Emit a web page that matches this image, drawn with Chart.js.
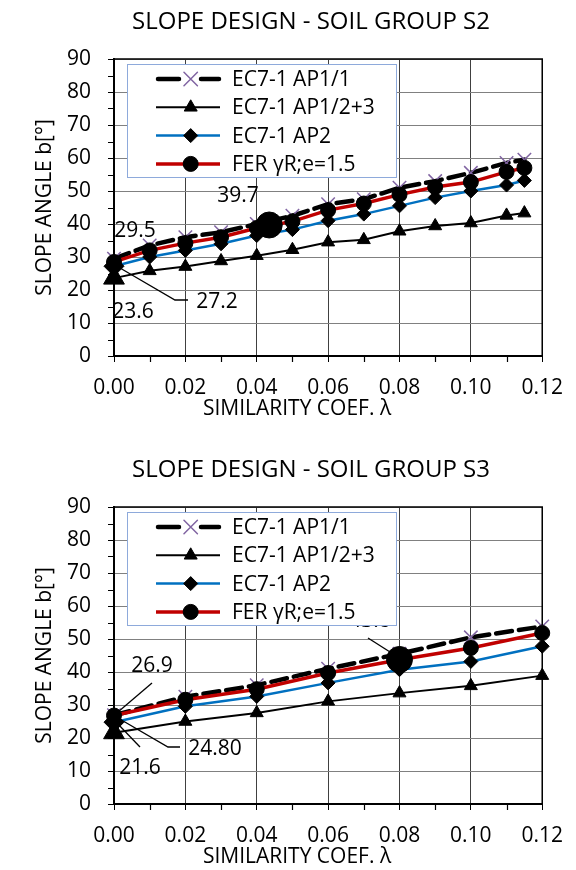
<!DOCTYPE html>
<html>
<head>
<meta charset="utf-8">
<script src="https://cdn.jsdelivr.net/npm/chart.js@4.4.1/dist/chart.umd.min.js"></script>
<style>
  body { margin: 0; background: #fff; }
  .box { position: absolute; left: 0; width: 576px; height: 422px; }
</style>
</head>
<body>
<div class="box" style="top:0"><canvas id="chartS2"></canvas></div>
<div class="box" style="top:448px"><canvas id="chartS3"></canvas></div>
<script>
// ---- data ----
const seriesNames = ['EC7-1 AP1/1', 'EC7-1 AP1/2+3', 'EC7-1 AP2', 'FER \u03b3R;e=1.5'];
const xTicks = [0, 0.02, 0.04, 0.06, 0.08, 0.10, 0.12];
const yTicks = [0, 10, 20, 30, 40, 50, 60, 70, 80, 90];

// soil group S2
const lambdaS2 = [0, 0.01, 0.02, 0.03, 0.04, 0.05, 0.06, 0.07, 0.08, 0.09, 0.10, 0.11, 0.115];
const ap11S2 = [29.5, 33.5, 36, 37.5, 40, 42.5, 46, 47.5, 51, 53, 55.5, 58.5, 59.5];
const ap123S2 = [23.6, 25.8, 27.1, 28.8, 30.4, 32.2, 34.5, 35.2, 37.8, 39.4, 40.3, 42.6, 43.3];
const ap2S2 = [27.2, 30, 32, 34, 36.5, 38.3, 41, 43, 45.5, 48, 50, 51.8, 53.2];
const ferS2 = [28.5, 32, 34.2, 36, 38.8, 40.8, 44.2, 46.2, 48.9, 51.2, 52.7, 55.8, 57];
const designS2 = [[0, 23.6], [0, 27.2], [0.0435, 39.7]];
const notesS2 = ['29.5', '23.6', '27.2', '39.7'];

// soil group S3
const lambdaS3 = [0, 0.02, 0.04, 0.06, 0.08, 0.10, 0.12];
const ap11S3 = [26.9, 32.5, 36, 41, 45.5, 50.5, 53.8];
const ap123S3 = [21.6, 25, 27.6, 31.1, 33.6, 35.8, 38.9];
const ap2S3 = [24.8, 29.6, 32.6, 36.7, 40.7, 43.2, 47.8];
const ferS3 = [26.8, 31.6, 34.8, 39.7, 43.7, 47.3, 51.8];
const designS3 = [[0, 21.6], [0, 24.8], [0.08, 43.8]];
const notesS3 = ['26.9', '21.6', '24.80', '43.8'];

// ---- styles ----
const FONT = '"Open Sans", "DejaVu Sans", sans-serif';
const PURPLE = '#8064a2';

function pts(xs, ys) {
  return xs.map((x, i) => ({ x: x, y: ys[i] }));
}

function buildDatasets(lam, a11, a123, a2, fer, design) {
  return [
    { label: seriesNames[0], data: pts(lam, a11), order: 3,
      borderColor: '#000', borderWidth: 4.5, borderDash: [16, 7], borderCapStyle: 'round',
      pointStyle: 'crossRot', pointRadius: 9.5, pointBorderColor: PURPLE, pointBackgroundColor: PURPLE,
      pointBorderWidth: 1.5 },
    { label: seriesNames[1], data: pts(lam, a123), order: 2,
      borderColor: '#000', borderWidth: 2,
      pointStyle: 'triangle', pointRadius: 7.5, pointBorderColor: '#000', pointBackgroundColor: '#000',
      pointBorderWidth: 1 },
    { label: seriesNames[2], data: pts(lam, a2), order: 1,
      borderColor: '#0070c0', borderWidth: 2.5,
      pointStyle: 'rectRot', pointRadius: 7, pointBorderColor: '#000', pointBackgroundColor: '#000',
      pointBorderWidth: 1 },
    { label: seriesNames[3], data: pts(lam, fer), order: 0,
      borderColor: '#c00000', borderWidth: 3.5,
      pointStyle: 'circle', pointRadius: 7.5, pointBorderColor: '#000', pointBackgroundColor: '#000',
      pointBorderWidth: 1 },
    // highlighted design points (bigger markers, not in legend)
    { label: 'design', data: design.map(p => ({ x: p[0], y: p[1] })), order: -1,
      showLine: false, pointStyle: ['triangle', 'rectRot', 'circle'], pointRadius: [12, 10, 13],
      pointBorderColor: '#000', pointBackgroundColor: '#000', pointBorderWidth: 1 }
  ];
}

// minor ticks, frame, notes, legend, titles
const decor = {
  id: 'decor',
  beforeDatasetsDraw(chart) {
    const ctx = chart.ctx, a = chart.chartArea, xs = chart.scales.x, ys = chart.scales.y;
    ctx.save();
    ctx.strokeStyle = '#000';
    ctx.lineWidth = 1.5;
    ctx.beginPath();
    ctx.moveTo(a.left, a.top); ctx.lineTo(a.right, a.top); ctx.lineTo(a.right, a.bottom);
    ctx.stroke();
    ctx.lineWidth = 1.2;
    ctx.beginPath();
    for (let v = 5; v < 90; v += 10) {
      const y = Math.round(ys.getPixelForValue(v)) + 0.5;
      ctx.moveTo(a.left - 6, y); ctx.lineTo(a.left, y);
    }
    for (let v = 0.01; v < 0.12; v += 0.02) {
      const x = Math.round(xs.getPixelForValue(v)) + 0.5;
      ctx.moveTo(x, a.bottom); ctx.lineTo(x, a.bottom + 6);
    }
    ctx.stroke();
    ctx.restore();
  },
  afterDatasetsDraw(chart, args, opts) {
    const ctx = chart.ctx;
    ctx.save();
    ctx.fillStyle = '#000';
    ctx.strokeStyle = '#000';
    ctx.lineWidth = 1.3;
    ctx.font = '21px ' + FONT;
    ctx.textAlign = 'center';
    ctx.textBaseline = 'middle';
    opts.notes.forEach((txt, i) => {
      const n = opts.notePos[i];
      if (n.leader) {
        ctx.beginPath();
        n.leader.forEach((p, k) => k ? ctx.lineTo(p[0], p[1]) : ctx.moveTo(p[0], p[1]));
        ctx.stroke();
      }
      ctx.fillText(txt, n.x, n.y);
    });
    ctx.restore();
  },
  afterDraw(chart, args, opts) {
    const ctx = chart.ctx, a = chart.chartArea;
    ctx.save();
    // titles
    ctx.fillStyle = '#000';
    ctx.textAlign = 'center';
    ctx.textBaseline = 'middle';
    ctx.font = '24px ' + FONT;
    ctx.fillText(opts.title, 311, 22);
    ctx.font = '21px ' + FONT;
    ctx.fillText('SIMILARITY COEF. \u03bb', 297, 409);
    ctx.save();
    ctx.translate(45, (a.top + a.bottom) / 2);
    ctx.rotate(-Math.PI / 2);
    ctx.fillText('SLOPE ANGLE b[\u00b0]', 0, 0);
    ctx.restore();

    // legend box inside the plot
    const bx = 127, by = 64, bw = 269, bh = 113;
    ctx.fillStyle = '#fff';
    ctx.fillRect(bx, by, bw, bh);
    ctx.strokeStyle = '#8eaadb';
    ctx.lineWidth = 1;
    ctx.strokeRect(bx + 0.5, by + 0.5, bw, bh);
    chart.data.datasets.slice(0, 4).forEach((ds, i) => {
      const y = by + 15 + i * 28.3;
      ctx.strokeStyle = ds.borderColor;
      ctx.lineWidth = ds.borderWidth;
      ctx.lineCap = ds.borderDash ? 'round' : 'butt';
      ctx.beginPath();
      if (ds.borderDash) {
        ctx.moveTo(158, y); ctx.lineTo(179, y);
        ctx.moveTo(201, y); ctx.lineTo(219, y);
      } else {
        ctx.moveTo(156, y); ctx.lineTo(220, y);
      }
      ctx.stroke();
      ctx.fillStyle = ds.pointBackgroundColor;
      ctx.strokeStyle = ds.pointBorderColor;
      ctx.lineWidth = ds.pointBorderWidth;
      Chart.helpers.drawPoint(ctx, { pointStyle: ds.pointStyle, radius: ds.pointRadius,
        rotation: 0, borderWidth: ds.pointBorderWidth }, 190.7, y);
      ctx.fillStyle = '#000';
      ctx.font = '21px ' + FONT;
      ctx.textAlign = 'left';
      ctx.fillText(ds.label, 232, y + 1);
    });
    ctx.restore();
  }
};

function makeChart(id, title, datasets, notes, notePos) {
  return new Chart(document.getElementById(id), {
    type: 'line',
    data: { datasets: datasets },
    plugins: [decor],
    options: {
      responsive: true,
      maintainAspectRatio: false,
      animation: false,
      layout: { padding: { top: 59, right: 32, left: 0, bottom: 0 } },
      elements: { line: { tension: 0 } },
      datasets: { line: { clip: false } },
      scales: {
        x: {
          type: 'linear', min: 0, max: 0.12,
          afterFit: s => { s.height = 66; },
          afterBuildTicks: s => { s.ticks = xTicks.map(v => ({ value: v })); },
          grid: { color: '#404040', lineWidth: 1, tickLength: 6, tickColor: '#000' },
          border: { color: '#000', width: 2 },
          ticks: { color: '#000', padding: 13, maxRotation: 0, font: { family: FONT, size: 21 },
                   callback: v => v.toFixed(2) }
        },
        y: {
          min: 0, max: 90,
          afterFit: s => { s.width = 114; },
          afterBuildTicks: s => { s.ticks = yTicks.map(v => ({ value: v })); },
          grid: { color: '#808080', lineWidth: 1, tickLength: 6, tickColor: '#000' },
          border: { color: '#000', width: 2 },
          ticks: { color: '#000', padding: 17, font: { family: FONT, size: 21 } }
        }
      },
      plugins: {
        legend: { display: false },
        tooltip: { enabled: false },
        decor: { title: title, notes: notes, notePos: notePos }
      }
    }
  });
}

makeChart('chartS2', 'SLOPE DESIGN - SOIL GROUP S2',
  buildDatasets(lambdaS2, ap11S2, ap123S2, ap2S2, ferS2, designS2), notesS2, [
    { x: 135, y: 231 },
    { x: 133, y: 312 },
    { x: 217, y: 302, leader: [[120, 268], [175, 300], [188, 300]] },
    { x: 238, y: 196 }
  ]);

makeChart('chartS3', 'SLOPE DESIGN - SOIL GROUP S3',
  buildDatasets(lambdaS3, ap11S3, ap123S3, ap2S3, ferS3, designS3), notesS3, [
    { x: 152, y: 218, leader: [[152, 235], [118, 264]] },
    { x: 140, y: 320, leader: [[140, 299], [116, 274]] },
    { x: 215, y: 301, leader: [[118, 270], [168, 299], [180, 299]] },
    { x: 370, y: 173, leader: [[368, 190], [390, 204]] }
  ]);
</script>
</body>
</html>
